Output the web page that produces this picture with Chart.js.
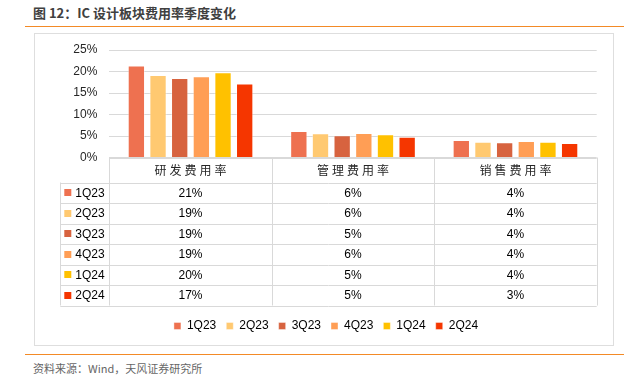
<!DOCTYPE html>
<html><head><meta charset="utf-8">
<script src="https://cdn.jsdelivr.net/npm/chart.js@4"></script>
<style>
html,body{margin:0;padding:0;background:#fff;width:639px;height:382px;overflow:hidden;position:relative;}
#title{position:absolute;left:33px;top:4px;font:bold 13px "Noto Sans CJK SC",sans-serif;color:#404040;line-height:18px;white-space:nowrap}
.rule{position:absolute;left:25px;width:599px;height:1px;background:#F38A26}
#box{position:absolute;left:34px;top:33px;width:578px;height:311px;border:1px solid #dedede;}
#c{position:absolute;left:0;top:0}
#src{position:absolute;left:33px;top:361px;font:11px "Noto Sans CJK SC",sans-serif;color:#666;line-height:14px;white-space:nowrap}
</style></head>
<body>
<div id="title">图 12：IC 设计板块费用率季度变化</div>
<div class="rule" style="top:26px"></div>
<div id="box"><canvas id="c" width="578" height="311"></canvas></div>
<div class="rule" style="top:354px"></div>
<div id="src">资料来源：Wind，天风证券研究所</div>
<script>
const categories = ['研发费用率', '管理费用率', '销售费用率'];
const seriesNames = ['1Q23', '2Q23', '3Q23', '4Q23', '1Q24', '2Q24'];
const q1_23 = [21.4, 6.16, 4.07];
const q2_23 = [19.2, 5.63, 3.67];
const q3_23 = [18.5, 5.16, 3.53];
const q4_23 = [18.9, 5.70, 3.84];
const q1_24 = [19.8, 5.40, 3.67];
const q2_24 = [17.2, 4.84, 3.37];
const yTicks = [0, 5, 10, 15, 20, 25];
const colors = ['#EE7150', '#FFC971', '#D7633F', '#FF9E55', '#FFC100', '#F53600'];
const seriesValues = [q1_23, q2_23, q3_23, q4_23, q1_24, q2_24];

const datasets = seriesNames.map((n, i) => ({
  label: n,
  data: seriesValues[i],
  backgroundColor: colors[i],
  borderColor: 'rgba(255,255,255,0.4)',
  borderWidth: 1,
  categoryPercentage: 0.8,
  barPercentage: 0.8
}));

const tablePlugin = {
  id: 'dataTable',
  afterDraw(chart) {
    const ctx = chart.ctx;
    const xs = chart.scales.x;
    const ca = chart.chartArea;
    const top = ca.bottom;
    const headerH = 25;
    const rowH = 20.5;
    const keyLeft = ca.left - 49;
    const n = categories.length;
    const bounds = [ca.left];
    for (let i = 0; i < n - 1; i++) {
      bounds.push((xs.getPixelForValue(i) + xs.getPixelForValue(i + 1)) / 2);
    }
    bounds.push(ca.right);
    const crisp = v => Math.round(v) + 0.5;
    const tableBottom = top + headerH + rowH * seriesNames.length;
    ctx.save();
    ctx.strokeStyle = '#d9d9d9';
    ctx.lineWidth = 1;
    ctx.beginPath();
    ctx.moveTo(ca.left, crisp(top)); ctx.lineTo(ca.right, crisp(top));
    for (let r = 0; r <= seriesNames.length; r++) {
      const y = crisp(top + headerH + r * rowH);
      ctx.moveTo(keyLeft, y); ctx.lineTo(ca.right, y);
    }
    bounds.forEach(b => { ctx.moveTo(crisp(b), top); ctx.lineTo(crisp(b), tableBottom); });
    ctx.moveTo(crisp(keyLeft), top + headerH); ctx.lineTo(crisp(keyLeft), tableBottom);
    ctx.stroke();

    ctx.fillStyle = '#262626';
    ctx.font = '12px "Noto Sans CJK SC"';
    ctx.textAlign = 'center';
    ctx.textBaseline = 'middle';
    try { ctx.letterSpacing = '3px'; } catch (e) {}
    categories.forEach((c, i) => {
      ctx.fillText(c, xs.getPixelForValue(i) + 1.5, top + headerH / 2);
    });
    try { ctx.letterSpacing = '0px'; } catch (e) {}

    ctx.font = '12px "Liberation Sans", Arial, sans-serif';
    seriesNames.forEach((s, r) => {
      const cy = top + headerH + r * rowH + rowH / 2;
      ctx.fillStyle = colors[r];
      ctx.fillRect(keyLeft + 4, Math.round(cy - 3.5), 7, 7);
      ctx.fillStyle = '#000';
      ctx.textAlign = 'left';
      ctx.fillText(s, keyLeft + 15, cy + 0.5);
      ctx.textAlign = 'center';
      seriesValues[r].forEach((v, i) => {
        ctx.fillText(Math.round(v) + '%', xs.getPixelForValue(i), cy + 0.5);
      });
    });
    ctx.restore();
  }
};

new Chart(document.getElementById('c'), {
  type: 'bar',
  data: { labels: categories, datasets },
  options: {
    responsive: false,
    animation: false,
    events: [],
    layout: { padding: { left: 20.3, right: 16.3, top: 16, bottom: 3 } },
    plugins: {
      tooltip: { enabled: false },
      legend: {
        position: 'bottom',
        labels: {
          boxWidth: 7, boxHeight: 7, padding: 10,
          color: '#000',
          font: { size: 12, family: '"Liberation Sans", Arial, sans-serif' }
        }
      }
    },
    scales: {
      x: {
        grid: { display: false },
        border: { display: false },
        ticks: { display: false },
        afterFit(scale) { scale.height = 152.5; }
      },
      y: {
        min: 0, max: 25,
        afterBuildTicks(scale) { scale.ticks = yTicks.map(v => ({ value: v })); },
        grid: { color: '#d9d9d9', drawTicks: false },
        border: { display: false },
        ticks: {
          padding: 12,
          color: '#262626',
          font: { size: 12, lineHeight: 0.66, family: '"Liberation Sans", Arial, sans-serif' },
          callback: v => v + '%'
        },
        afterFit(scale) { scale.width = 54; }
      }
    }
  },
  plugins: [tablePlugin]
});
</script>
</body></html>
